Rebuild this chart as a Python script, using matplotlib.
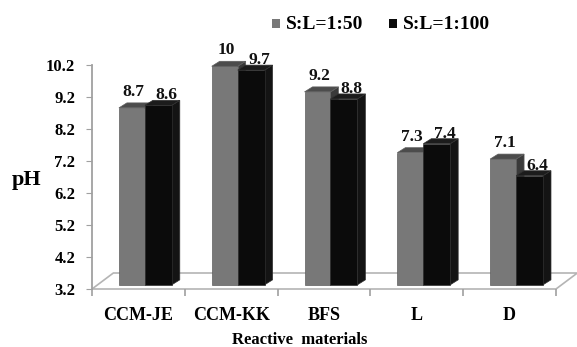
import matplotlib
matplotlib.use("Agg")
import matplotlib.pyplot as plt
from matplotlib.patches import Polygon, Rectangle

# data
materials = ["CCM-JE", "CCM-KK", "BFS", "L", "D"]
series_names = ["S:L=1:50", "S:L=1:100"]
ph_50 = [8.7, 10.0, 9.2, 7.3, 7.1]
ph_100 = [8.6, 9.7, 8.8, 7.4, 6.4]
y_ticks = [3.2, 4.2, 5.2, 6.2, 7.2, 8.2, 9.2, 10.2]

plt.rcParams["font.family"] = ["Liberation Serif", "DejaVu Serif"]
plt.rcParams["font.weight"] = "bold"

fig = plt.figure(figsize=(5.77, 3.47), dpi=100)
ax = fig.add_axes([92 / 577, 1 - 289 / 347, 464 / 577, 224 / 347])
ax.set_xlim(0, len(materials))
ax.set_ylim(y_ticks[0], y_ticks[-1])

# fake 3d look (excel style)
dx, dy = 0.086, 0.156
base = 3.33
styles = [
    # (x start, width, lift, front, top, side, edge, label offset)
    (0.29, 0.28, 0.16, "#787878", "#4c4c4c", "#3a3a3a", "#5e5e5e", 0.02),
    (0.57, 0.29, 0.34, "#0b0b0b", "#1c1c1c", "#141414", "#303030", 0.085),
]

# floor
floor = Polygon([(0, 3.2), (5, 3.2), (5 + 0.23, 3.7), (0.23, 3.7)], closed=True,
                facecolor="white", edgecolor="#b4b4b4", lw=1.2, clip_on=False, zorder=1)
ax.add_patch(floor)

for vals, (xs, w, lift, c_front, c_top, c_side, c_edge, loff) in zip([ph_50, ph_100], styles):
    for i, v in enumerate(vals):
        x0 = i + xs
        x1 = x0 + w
        t = v + lift
        side = Polygon([(x1, base), (x1 + dx, base + dy), (x1 + dx, t + dy), (x1, t)],
                       closed=True, facecolor=c_side, edgecolor=c_edge, lw=0.5,
                       clip_on=False, zorder=2)
        front = Polygon([(x0, base), (x1, base), (x1, t), (x0, t)], closed=True,
                        facecolor=c_front, edgecolor=c_edge, lw=0.5, clip_on=False, zorder=3)
        top = Polygon([(x0, t), (x1, t), (x1 + dx, t + dy), (x0 + dx, t + dy)], closed=True,
                      facecolor=c_top, edgecolor=c_edge, lw=0.5, clip_on=False, zorder=3)
        ax.add_patch(side)
        ax.add_patch(front)
        ax.add_patch(top)
        ax.text(x0 + w / 2 + loff, v + 0.53, f"{v:g}", ha="center", va="baseline",
                fontsize=12.5, fontweight="bold", color="#111111")

for s in ["top", "right", "bottom"]:
    ax.spines[s].set_visible(False)
ax.spines["left"].set_color("#a0a0a0")
ax.spines["left"].set_linewidth(1.3)

ax.set_yticks(y_ticks)
ax.set_yticklabels([f"{t:.1f}" for t in y_ticks], fontsize=12, fontweight="bold")
ax.tick_params(axis="y", length=4, color="#a0a0a0", pad=8)

ax.set_xticks([i + 0.5 for i in range(len(materials))])
ax.set_xticklabels(materials, fontsize=13, fontweight="bold")
ax.set_xticks(range(len(materials) + 1), minor=True)
ax.tick_params(axis="x", which="major", length=0, pad=13)
ax.tick_params(axis="x", which="minor", length=5, color="#a0a0a0", width=1.2)

fig.text(27 / 577, 1 - 180 / 347, "pH", fontsize=16, fontweight="bold",
         ha="center", va="center")
fig.text(300 / 577, 1 - 344 / 347, "Reactive  materials", fontsize=12,
         fontweight="bold", ha="center", va="baseline")

# legend
leg_colors = [styles[0][3], styles[1][3]]
leg_x = [272, 389]
for name, col, lx in zip(series_names, leg_colors, leg_x):
    fig.patches.append(Rectangle((lx / 577, 1 - 28 / 347), 8 / 577, 9 / 347,
                                 transform=fig.transFigure, facecolor=col, edgecolor="none"))
    fig.text((lx + 14) / 577, 1 - 29 / 347, name, fontsize=14, fontweight="bold",
             ha="left", va="baseline")

fig.savefig("out.png", dpi=100)
